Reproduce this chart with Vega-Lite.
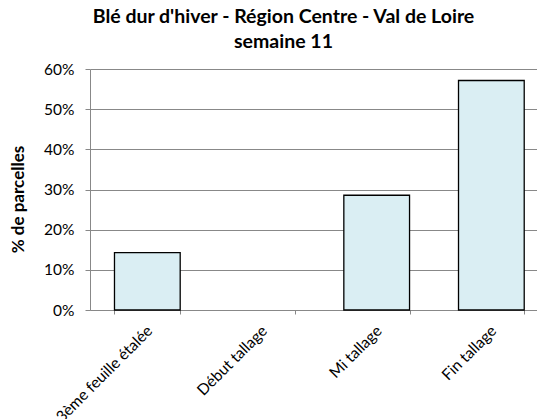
{
  "$schema": "https://vega.github.io/schema/vega-lite/v6.json",
  "autosize": {"type": "none"},
  "width": 447,
  "height": 241,
  "padding": {"left": 90, "top": 69, "right": 0, "bottom": 109},
  "background": "white",
  "title": {
    "text": ["Blé dur d'hiver - Région Centre - Val de Loire", "semaine 11"],
    "font": "Lato",
    "fontSize": 19.5,
    "fontWeight": "bold",
    "color": "black",
    "anchor": "middle",
    "dx": -30,
    "offset": 10,
    "lineHeight": 25
  },
  "data": {
    "values": [
      {"stade": "3ème feuille étalée", "pct": 0.1429},
      {"stade": "Début tallage", "pct": 0},
      {"stade": "Mi tallage", "pct": 0.2857},
      {"stade": "Fin tallage", "pct": 0.5714}
    ]
  },
  "mark": {"type": "bar", "fill": "#DAEEF3", "stroke": "black", "strokeWidth": 1.3},
  "encoding": {
    "x": {
      "field": "stade",
      "type": "nominal",
      "sort": null,
      "scale": {"paddingInner": 0.427, "paddingOuter": 0.2135, "range": [0, 458.7]},
      "axis": {
        "title": null,
        "labelAngle": -45,
        "labelAlign": "right",
        "labelBaseline": "middle",
        "labelFont": "Lato",
        "labelFontSize": 15.5,
        "labelColor": "black",
        "labelPadding": 14,
        "labelOffset": 2,
        "domainColor": "#888888",
        "tickColor": "#888888",
        "tickBand": "extent",
        "tickSize": 4,
        "grid": false
      }
    },
    "y": {
      "field": "pct",
      "type": "quantitative",
      "scale": {"domain": [0, 0.6]},
      "axis": {
        "title": "% de parcelles",
        "titleFont": "Lato",
        "titleFontSize": 17,
        "titleFontWeight": "bold",
        "titleColor": "black",
        "titlePadding": 16,
        "titleY": 130,
        "format": ".0%",
        "values": [0, 0.1, 0.2, 0.3, 0.4, 0.5, 0.6],
        "labelFont": "Lato",
        "labelFontSize": 15.5,
        "labelColor": "black",
        "labelPadding": 11,
        "domainColor": "#888888",
        "tickColor": "#888888",
        "tickSize": 5,
        "gridColor": "#888888",
        "gridWidth": 1
      }
    },
    "strokeOpacity": {
      "condition": {"test": "datum.pct == 0", "value": 0},
      "value": 1
    }
  },
  "config": {"view": {"stroke": null}}
}
